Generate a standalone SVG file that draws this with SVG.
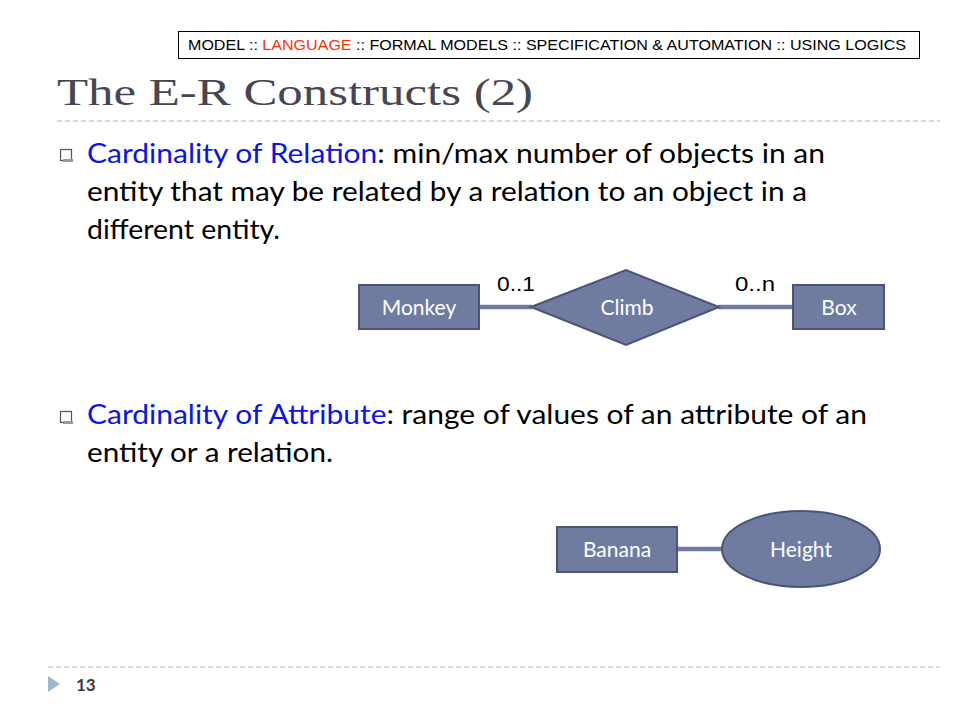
<svg xmlns="http://www.w3.org/2000/svg" width="960" height="720" viewBox="0 0 960 720">
<style>
.hdr{font-family:"Liberation Sans",Arial,sans-serif;font-size:14.5px;fill:#000}
.title{font-family:"Liberation Serif","DejaVu Serif",serif;font-size:38px;fill:#464652}
.body{font-family:"Lato","Open Sans",sans-serif;font-size:26px;fill:#000}
.blue{fill:#0a14e6}
.node rect,.node path,.node ellipse{fill:#6f7b9f;stroke:#4b5478;stroke-width:2}
.lbl{font-family:"Lato","Open Sans",sans-serif;font-size:21px;fill:#fff;text-anchor:middle}
.card{font-family:"Liberation Sans",Arial,sans-serif;font-size:20px;fill:#000}
.conn line{stroke:#6f7b9f;stroke-width:4.5}
.dash{stroke:#a3bdd6;stroke-width:1.2;stroke-dasharray:5 3}
</style>
<rect width="960" height="720" fill="#fff"/>
<rect x="178.5" y="31.5" width="741" height="27" fill="#fff" stroke="#000" stroke-width="1"/>
<text class="hdr" x="188" y="50" textLength="718" lengthAdjust="spacingAndGlyphs">MODEL ::  <tspan fill="#ff3300">LANGUAGE</tspan> :: FORMAL MODELS :: SPECIFICATION &amp; AUTOMATION :: USING LOGICS</text>
<text class="title" x="57" y="105" textLength="476" lengthAdjust="spacingAndGlyphs">The E-R Constructs (2)</text>
<line class="dash" x1="57" y1="121" x2="940" y2="121"/>
<g id="bullet1">
<rect x="60.5" y="149.5" width="11" height="11" fill="#fff" stroke="#555" stroke-width="1.2"/>
<rect x="63" y="159" width="10" height="3" fill="#999"/>
<text class="body" x="87" y="163" textLength="738" lengthAdjust="spacingAndGlyphs"><tspan class="blue">Cardinality of Relation</tspan>: min/max number of  objects in an</text>
<text class="body" x="87" y="201" textLength="720" lengthAdjust="spacingAndGlyphs">entity that may be related by a relation to an object in a</text>
<text class="body" x="87" y="239" textLength="193" lengthAdjust="spacingAndGlyphs">different entity.</text>
</g>
<g id="bullet2">
<rect x="60.5" y="411.5" width="11" height="11" fill="#fff" stroke="#555" stroke-width="1.2"/>
<rect x="63" y="421" width="10" height="3" fill="#999"/>
<text class="body" x="87" y="424" textLength="780" lengthAdjust="spacingAndGlyphs"><tspan class="blue">Cardinality of Attribute</tspan>: range of values of an  attribute of an</text>
<text class="body" x="87" y="462" textLength="246" lengthAdjust="spacingAndGlyphs">entity or a relation.</text>
</g>
<g id="connectors" class="conn">
<line x1="480" y1="307" x2="532" y2="307"/>
<line x1="718" y1="307" x2="794" y2="307"/>
<line x1="678" y1="549" x2="723" y2="549"/>
</g>
<text class="card" x="497" y="291" textLength="38" lengthAdjust="spacingAndGlyphs">0..1</text>
<text class="card" x="735" y="291" textLength="40" lengthAdjust="spacingAndGlyphs">0..n</text>
<g id="monkey" class="node"><rect x="359" y="285" width="120" height="44"/><text class="lbl" x="419" y="315">Monkey</text></g>
<g id="climb" class="node"><path d="M531 307 L626 270 L719 307 L626 345 Z"/><text class="lbl" x="627" y="315">Climb</text></g>
<g id="box" class="node"><rect x="793" y="285" width="91" height="44"/><text class="lbl" x="839" y="315">Box</text></g>
<g id="banana" class="node"><rect x="557" y="527" width="120" height="45"/><text class="lbl" x="617" y="557">Banana</text></g>
<g id="height" class="node"><ellipse cx="801" cy="549" rx="79" ry="38"/><text class="lbl" x="801" y="557">Height</text></g>
<line class="dash" x1="48" y1="667" x2="940" y2="667"/>
<path d="M48 676 L60 684 L48 692 Z" fill="#9fb8d0"/>
<text x="76" y="691" font-family="Lato,'Open Sans',sans-serif" font-size="17" font-weight="bold" fill="#3a3a48">13</text>
</svg>
